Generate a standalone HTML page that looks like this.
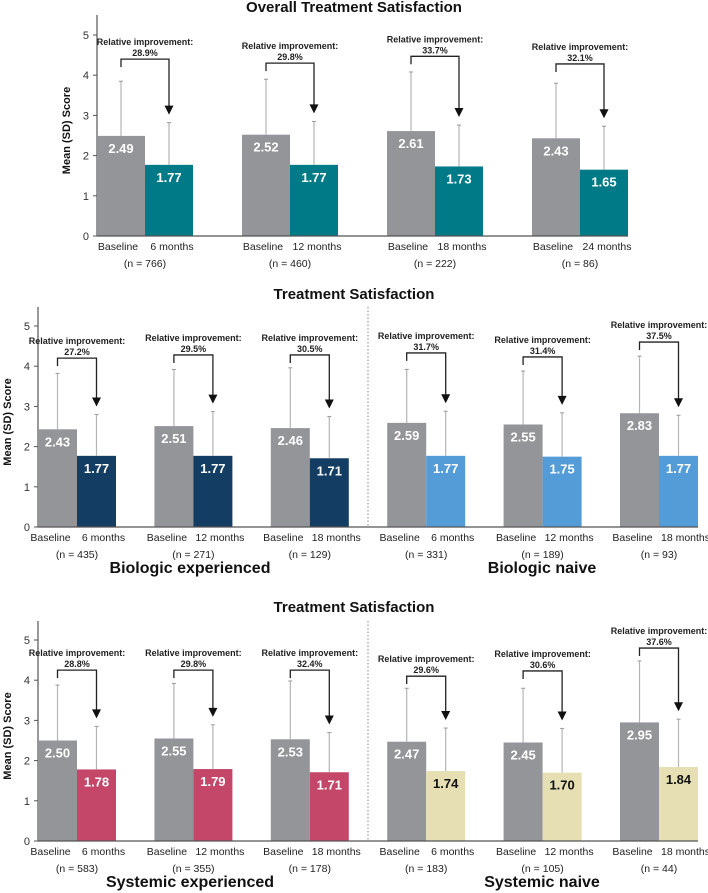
<!DOCTYPE html>
<html><head><meta charset="utf-8"><style>
body{margin:0;background:#fff;}
svg{display:block;font-family:"Liberation Sans",Arial,sans-serif;}
</style></head><body>
<svg id="chart" width="708" height="893" viewBox="0 0 708 893" xmlns="http://www.w3.org/2000/svg"></svg>
<script>
// ---- Data ----
const topLabels = ["6 months","12 months","18 months","24 months"];
const topN = ["766","460","222","86"];
const topBase = [2.49,2.52,2.61,2.43];
const topFollow = [1.77,1.77,1.73,1.65];
const topBaseSD = [3.85,3.90,4.08,3.80];
const topFollowSD = [2.82,2.85,2.76,2.73];
const topPct = ["28.9%","29.8%","33.7%","32.1%"];
const topBracket = [4.4,4.3,4.47,4.28];

const midLabels = ["6 months","12 months","18 months","6 months","12 months","18 months"];
const midN = ["435","271","129","331","189","93"];
const midBase = [2.43,2.51,2.46,2.59,2.55,2.83];
const midFollow = [1.77,1.77,1.71,1.77,1.75,1.77];
const midBaseSD = [3.82,3.92,3.96,3.92,3.88,4.25];
const midFollowSD = [2.80,2.87,2.75,2.88,2.84,2.78];
const midPct = ["27.2%","29.5%","30.5%","31.7%","31.4%","37.5%"];
const midBracket = [4.2,4.28,4.28,4.33,4.23,4.6];

const botLabels = ["6 months","12 months","18 months","6 months","12 months","18 months"];
const botN = ["583","355","178","183","105","44"];
const botBase = [2.50,2.55,2.53,2.47,2.45,2.95];
const botFollow = [1.78,1.79,1.71,1.74,1.70,1.84];
const botBaseSD = [3.88,3.92,3.98,3.80,3.80,4.48];
const botFollowSD = [2.85,2.89,2.70,2.81,2.80,3.03];
const botPct = ["28.8%","29.8%","32.4%","29.6%","30.6%","37.6%"];
const botBracket = [4.25,4.25,4.25,4.1,4.23,4.8];

const yTicks = [0,1,2,3,4,5];

const NS="http://www.w3.org/2000/svg";
const svg=document.getElementById('chart');
function mk(tag,attrs,parent,text){const e=document.createElementNS(NS,tag);for(const k in attrs)e.setAttribute(k,attrs[k]);if(text!==undefined)e.textContent=text;(parent||svg).appendChild(e);return e;}

function drawPanel(cfg){
  const g=mk('g',{});
  
  
  const y=v=>cfg.y0-v*cfg.ppu;
  const gx=i=>cfg.left+i*cfg.step;
  const t=mk('text',{x:354,y:cfg.titleY,'text-anchor':'middle','font-size':15,'font-weight':'bold',fill:'#111'},g,cfg.title);
  
  
  const ya=mk('line',{x1:cfg.left,x2:cfg.left,y1:cfg.axisTop,y2:cfg.y0,stroke:'#555','stroke-width':1.2},g);
  
  
  yTicks.forEach(v=>{
    mk('line',{x1:cfg.left-4,x2:cfg.left,y1:y(v),y2:y(v),stroke:'#555'},g);
    const tl=mk('text',{x:cfg.left-8,y:y(v)+4,'text-anchor':'end','font-size':11,fill:'#333'},g,String(v));
    
    
  });
  const yt=mk('text',{x:0,y:0,'text-anchor':'middle','font-size':11,'font-weight':'bold',fill:'#111',transform:`translate(${cfg.left-27},${(cfg.axisTop+cfg.y0)/2+5}) rotate(-90)`},g,'Mean (SD) Score');
  
  
  cfg.base.forEach((b,i)=>{
    const x0=gx(i), w=cfg.bw;
    const fc=Array.isArray(cfg.color)?cfg.color[i]:cfg.color;
    const tc=Array.isArray(cfg.tcolor)?cfg.tcolor[i]:cfg.tcolor;
    const r1=mk('rect',{x:x0,y:y(b),width:w,height:y(0)-y(b),fill:'#939598'},g);
    
    
    const f=cfg.follow[i];
    const r2=mk('rect',{x:x0+w,y:y(f),width:w,height:y(0)-y(f),fill:fc},g);
    
    
    const cx1=x0+w/2, cx2=x0+w*1.5;
    mk('line',{x1:cx1,x2:cx1,y1:y(b),y2:y(cfg.baseSD[i]),stroke:'#b5b5b5','stroke-width':1.2},g);
    mk('line',{x1:cx1-2,x2:cx1+2,y1:y(cfg.baseSD[i]),y2:y(cfg.baseSD[i]),stroke:'#999'},g);
    mk('line',{x1:cx2,x2:cx2,y1:y(f),y2:y(cfg.followSD[i]),stroke:'#b5b5b5','stroke-width':1.2},g);
    mk('line',{x1:cx2-2,x2:cx2+2,y1:y(cfg.followSD[i]),y2:y(cfg.followSD[i]),stroke:'#999'},g);
    const v1=mk('text',{x:cx1,y:y(b)+17,'text-anchor':'middle','font-size':13,'font-weight':'bold',fill:'#fff'},g,b.toFixed(2));
    
    
    const v2=mk('text',{x:cx2,y:y(f)+17,'text-anchor':'middle','font-size':13,'font-weight':'bold',fill:tc},g,f.toFixed(2));
    
    
    const by=y(cfg.bracket[i]);
    const tip=y(cfg.followSD[i])-8;
    mk('path',{d:`M${cx1},${by+8} L${cx1},${by} L${cx2},${by} L${cx2},${tip-8}`,fill:'none',stroke:'#222','stroke-width':1.3},g);
    const ah=mk('path',{d:`M${cx2-4.5},${tip-9} L${cx2+4.5},${tip-9} L${cx2},${tip} Z`,fill:'#111'},g);
    
    
    const mx=(cx1+cx2)/2;
    const ri=mk('text',{x:mx,y:by-14,'text-anchor':'middle','font-size':9,'font-weight':'bold',fill:'#222'},g,'Relative improvement:');
    
    
    const pc=mk('text',{x:mx,y:by-3,'text-anchor':'middle','font-size':9,'font-weight':'bold',fill:'#222'},g,cfg.pct[i]);
    
    
    const xl1=mk('text',{x:cx1-cfg.lblOff,y:cfg.y0+14,'text-anchor':'middle','font-size':10.5,fill:'#222'},g,'Baseline');
    
    
    const xl2=mk('text',{x:cx2+cfg.lblOff,y:cfg.y0+14,'text-anchor':'middle','font-size':10.5,fill:'#222'},g,cfg.labels[i]);
    
    
    const nl=mk('text',{x:x0+w,y:cfg.y0+31,'text-anchor':'middle','font-size':10.5,fill:'#222'},g,'(n = '+cfg.n[i]+')');
    
    
  });
  const xa=mk('line',{x1:cfg.left,x2:cfg.axisRight,y1:cfg.y0,y2:cfg.y0,stroke:'#555','stroke-width':1.2},g);
  
  
  if(cfg.divider){
    const d=mk('line',{x1:cfg.divider,x2:cfg.divider,y1:cfg.axisTop,y2:cfg.y0,stroke:'#888','stroke-dasharray':'1.5,2'},g);
    
    
  }
  (cfg.groupLabels||[]).forEach(gl=>{
    const e=mk('text',{x:gl[1],y:cfg.y0+46,'text-anchor':'middle','font-size':16,'font-weight':'bold',fill:'#111'},g,gl[0]);
    
    
  });
}

drawPanel({name:'overall-panel',title:'Overall Treatment Satisfaction',titleY:12,left:97,step:145,bw:48,y0:236,ppu:40.2,axisTop:15,axisRight:628,lblOff:3,
  base:topBase,follow:topFollow,baseSD:topBaseSD,followSD:topFollowSD,pct:topPct,bracket:topBracket,labels:topLabels,n:topN,color:'#007a87',tcolor:'#fff'});
drawPanel({name:'biologic-panel',title:'Treatment Satisfaction',titleY:299,left:38,step:116.4,bw:39,y0:527,ppu:40.2,axisTop:307,axisRight:698,divider:368,lblOff:7,
  base:midBase,follow:midFollow,baseSD:midBaseSD,followSD:midFollowSD,pct:midPct,bracket:midBracket,labels:midLabels,n:midN,
  color:['#133d63','#133d63','#133d63','#549cd8','#549cd8','#549cd8'],tcolor:'#fff',groupLabels:[['Biologic experienced',190],['Biologic naive',542]]});
drawPanel({name:'systemic-panel',title:'Treatment Satisfaction',titleY:612,left:38,step:116.4,bw:39,y0:841,ppu:40.2,axisTop:621,axisRight:698,divider:368,lblOff:7,
  base:botBase,follow:botFollow,baseSD:botBaseSD,followSD:botFollowSD,pct:botPct,bracket:botBracket,labels:botLabels,n:botN,
  color:['#c4476a','#c4476a','#c4476a','#e5dfb3','#e5dfb3','#e5dfb3'],tcolor:['#fff','#fff','#fff','#111','#111','#111'],groupLabels:[['Systemic experienced',190],['Systemic naive',542]]});
</script>
</body></html>
